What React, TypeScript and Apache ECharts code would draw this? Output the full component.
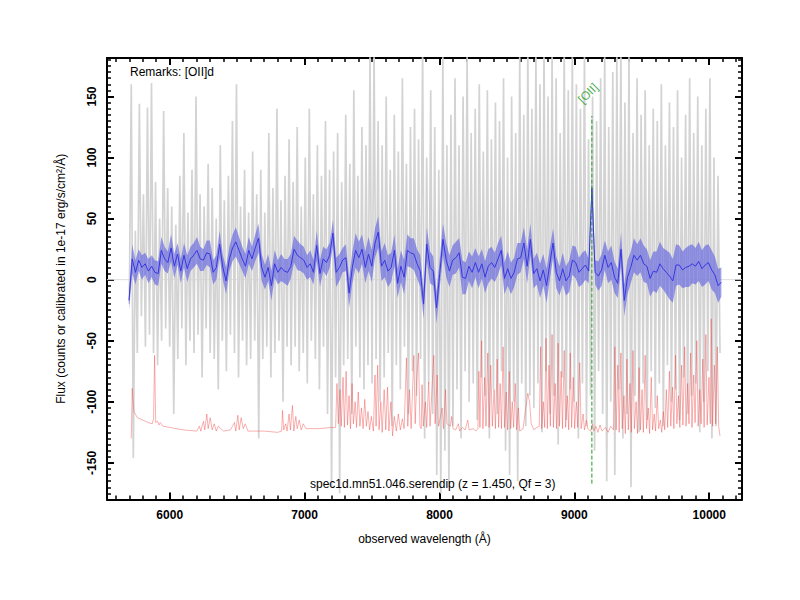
import React, { useEffect, useRef } from 'react';
import * as echarts from 'echarts';

// Axis ranges and tick labels
const X_MIN = 5535;
const X_MAX = 10243;
const Y_MIN = -180;
const Y_MAX = 181.5;
const X_TICKS = [6000, 7000, 8000, 9000, 10000];
const Y_TICKS = [-150, -100, -50, 0, 50, 100, 150];
const X_MINOR_STEP = 100;
const Y_MINOR_STEP = 5;

// Raw spectrum (grey), sampled every RAW_STEP Angstrom from RAW_START
const RAW_START = 5700;
const RAW_STEP = 15;
const RAW_FLUX = [
  -20, 160, -146, 40, -60, 144, -30, 70, -55, 141, -45, 161, -60, 80, -70, 50, -50, 138, -40, 75,
  -55, 60, -110, 45, -65, 85, -40, 120, -70, 55, -50, 90, -60, 150, -45, 70, -80, 60, -40, 95,
  -60, 75, -65, 50, -90, 110, -50, 65, -75, 85, -45, 130, -60, 160, -80, 60, -50, 90, -70, 55,
  -65, 105, -50, 70, -130, 90, -65, 55, -55, 120, -80, 75, -60, 140, -50, 65, -100, 85, -55, 115,
  -70, 80, -55, 125, -75, 60, -60, 100, -85, 140, -50, 70, -65, 110, -90, 85, -55, 130, -110, 90,
  -170, 105, -80, 120, -175, 80, -70, 135, -65, 95, -110, 155, -55, 85, -80, 125, -90, 110, -70, 185,
  -85, 190, -65, 130, -100, 110, -80, 150, -60, 90, -120, 135, -70, 105, -90, 165, -55, 95, -110, 125,
  -75, 140, -95, 115, -65, 190, -130, 100, -85, 155, -110, 125, -160, 90, -175, 185, -140, 110, -170, 135,
  -120, 165, -90, 110, -130, 150, -75, 185, -100, 120, -85, 140, -115, 160, -80, 105, -95, 155, -130, 115,
  -90, 145, -110, 130, -75, 165, -140, 100, -160, 150, -100, 120, -165, 185, -85, 135, -120, 190, -95, 140,
  -105, 185, -85, 160, -125, 190, -75, 150, -110, 185, -95, 165, -135, 120, -80, 190, -115, 155, -90, 185,
  -100, 160, -130, 140, -85, 185, -120, 115, -95, 150, -140, 130, -75, 165, -110, 190, -165, 125, -100, 170,
  -160, 185, -90, 190, -130, 145, -110, 185, -170, 120, -95, 165, -125, 135, -85, 155, -115, 110, -75, 140,
  -105, 130, -85, 160, -120, 110, -70, 145, -100, 125, -90, 155, -115, 100, -80, 135, -110, 165, -95, 120,
  -85, 150, -125, 110, -100, 140, -75, 165, -130, 100, -120, 85, -60,
];

// Smoothed spectrum (blue) and its 1-sigma half width, every SMOOTH_STEP Angstrom from SMOOTH_START
const SMOOTH_START = 5698;
const SMOOTH_STEP = 24;
const SMOOTH_FLUX = [
  -17, 17, 6, 16, 10, 13, 7, 11, 6, 5, 24, 17, 14, 26, 11, 21, 7, 20, 9, 17,
  20, 24, 17, 16, 22, 21, 6, 10, 29, 10, -1, 17, 26, 31, 24, 17, 11, 24, 17, 26,
  34, 10, 2, 10, -5, 13, 6, 10, 7, 6, 11, 25, 20, 18, 16, 10, 13, 6, 28, 5,
  17, 14, 20, 38, 6, 10, 16, 18,
  -11, 10, 24, 18, 25, 10, 21, 11, 30, 39, 11, 16, 7, 10, 24, -3, 11, 2, 24, 22,
  21, 13, 7, -20, 29, 10, 7, -23, 5, 33, 16, 7, 16, 18, 22, 2, 1, 11, 6, 14,
  6, 13, 2, 11, 14, 10, 17, 24, 1, 9, 1, 6, 17, 18, 30,
  11, 33, 5, 9, -1, 8, -5, 13, 30, 6, -1, 9, -1, 3, 16, 14, 6, 9, 12, 7,
  75, 6, 3, 8, 20, 10, 14, 2, -3, 25, -17, 2, 10, 20, 16, 20, 13, 11, 1, 7,
  6, 13, 9, 6, 3, -1, 12, 12, 8, 10, 11, 13, 11, 15, 9, 12, 14, 8, 4, -5,
  -2,
];
const SMOOTH_ERR = [
  8, 12, 10, 9, 10, 9, 10, 9, 10, 10, 11, 10, 9, 11, 10, 9, 10, 10, 11, 10,
  10, 11, 10, 9, 10, 11, 10, 10, 11, 10, 11, 10, 11, 12, 11, 10, 10, 11, 10, 11,
  12, 11, 10, 11, 12, 11, 10, 11, 10, 11, 10, 11, 12, 11, 11, 10, 11, 10, 12, 11,
  10, 11, 10, 11, 12, 11, 10, 11, 12, 13, 14, 13, 12, 13, 14, 13, 12, 13, 12, 14,
  13, 12, 13, 12, 13, 14, 13, 12, 13, 12, 13, 12, 14, 13, 12, 13, 12, 13, 14, 13,
  12, 13, 12, 14, 13, 12, 13, 12, 13, 12, 13, 14, 13, 12, 13, 12, 13, 14, 13, 12,
  13, 12, 13, 14, 13, 12, 13, 14, 13, 14, 13, 12, 13, 12, 13, 12, 13, 12, 13, 12,
  13, 12, 10, 8, 10, 12, 13, 12, 13, 14, 13, 12, 14, 13, 14, 13, 14, 13, 14, 15,
  14, 15, 16, 17, 18, 17, 18, 19, 18, 17, 16, 15, 16, 17, 16, 15, 16, 15, 16, 15,
  16, 15, 14, 12,
];

// Sky / noise spectrum (red), [wavelength, flux]
const SKY = [
  [5715, -130], [5722, -89], [5735, -108], [5760, -113], [5800, -115], [5840, -117], [5870, -118],
  [5880, -114], [5888, -62], [5896, -117], [5910, -116], [5920, -119], [5930, -117], [5950, -120],
  [6000, -121], [6100, -123], [6200, -124], [6220, -120], [6230, -124], [6250, -116], [6260, -123],
  [6275, -110], [6285, -122], [6300, -113], [6315, -123], [6330, -118], [6345, -124], [6360, -120],
  [6400, -124], [6450, -123], [6480, -117], [6490, -124], [6505, -111], [6515, -123], [6530, -113],
  [6545, -122], [6560, -118], [6580, -124], [6700, -124], [6800, -125], [6830, -124], [6836, -107],
  [6845, -123], [6860, -118], [6870, -124], [6885, -110], [6895, -123], [6910, -103], [6920, -124],
  [6935, -112], [6945, -122], [6960, -115], [6975, -123], [6990, -118], [7010, -122], [7100, -122],
  [7200, -121], [7230, -121], [7240, -85], [7250, -118], [7262, -90], [7272, -120], [7285, -80],
  [7295, -121], [7308, -75], [7318, -119], [7330, -95], [7340, -122], [7352, -85], [7362, -118],
  [7375, -100], [7385, -121], [7398, -92], [7410, -120], [7422, -105], [7434, -122], [7446, -98],
  [7458, -120], [7470, -108], [7482, -123], [7495, -112], [7510, -124], [7522, -78], [7530, -120],
  [7542, -70], [7552, -123], [7565, -100], [7575, -125], [7590, -90], [7602, -123], [7615, -88],
  [7625, -124], [7640, -100], [7652, -128], [7665, -112], [7680, -124], [7695, -110], [7710, -123],
  [7725, -114], [7738, -122], [7755, -64], [7765, -120], [7778, -90], [7790, -122], [7810, -62],
  [7820, -118], [7832, -80], [7845, -60], [7855, -120], [7865, -122], [7871, -86], [7880, -120],
  [7896, -100], [7905, -121], [7920, -84], [7930, -120], [7958, -62], [7968, -118], [7983, -78],
  [7993, -120], [8020, -105], [8030, -122], [8045, -90], [8055, -118], [8080, -120], [8090, -112],
  [8100, -122], [8120, -123], [8140, -118], [8150, -124], [8170, -121], [8190, -123], [8210, -115],
  [8220, -123], [8250, -122], [8270, -124], [8285, -122], [8292, -75], [8300, -121], [8312, -50],
  [8322, -122], [8335, -80], [8345, -120], [8358, -60], [8368, -121], [8380, -70], [8392, -120],
  [8405, -90], [8415, -122], [8428, -65], [8438, -121], [8450, -85], [8460, -122], [8472, -55],
  [8482, -121], [8495, -92], [8505, -123], [8518, -75], [8528, -122], [8540, -100], [8550, -121],
  [8562, -85], [8572, -123], [8585, -105], [8595, -124], [8620, -122], [8640, -105], [8655, -93],
  [8668, -100], [8680, -118], [8700, -123], [8720, -121], [8740, -120], [8750, -55], [8758, -122],
  [8770, -100], [8780, -121], [8790, -48], [8800, -122], [8812, -70], [8822, -120], [8835, -45],
  [8845, -121], [8858, -85], [8868, -122], [8880, -52], [8890, -120], [8902, -75], [8912, -122],
  [8925, -58], [8935, -121], [8948, -95], [8958, -123], [8970, -60], [8980, -121], [8992, -80],
  [9002, -122], [9015, -100], [9025, -121], [9040, -68], [9050, -122], [9065, -110], [9075, -123],
  [9090, -115], [9100, -122], [9120, -124], [9135, -118], [9145, -124], [9160, -120], [9175, -125],
  [9190, -119], [9205, -124], [9230, -121], [9250, -125], [9270, -120], [9290, -123], [9300, -55],
  [9310, -123], [9322, -70], [9332, -125], [9345, -60], [9355, -122], [9368, -95], [9378, -126],
  [9390, -65], [9400, -123], [9412, -85], [9422, -125], [9435, -58], [9445, -122], [9458, -100],
  [9468, -126], [9480, -72], [9490, -123], [9502, -90], [9512, -125], [9525, -62], [9535, -122],
  [9548, -105], [9558, -126], [9570, -80], [9580, -123], [9592, -110], [9602, -124], [9615, -95],
  [9625, -122], [9638, -115], [9648, -125], [9660, -108], [9670, -123], [9682, -90], [9692, -121],
  [9705, -75], [9715, -120], [9728, -88], [9738, -122], [9750, -62], [9760, -118], [9772, -95],
  [9782, -121], [9795, -70], [9805, -119], [9818, -55], [9828, -120], [9840, -85], [9850, -118],
  [9862, -60], [9872, -121], [9885, -78], [9895, -117], [9908, -50], [9918, -120], [9930, -90],
  [9940, -118], [9952, -65], [9962, -121], [9975, -45], [9985, -119], [9998, -80], [10008, -118],
  [10015, -32], [10025, -120], [10038, -70], [10048, -118], [10060, -55], [10070, -120], [10080, -128],
];

// Emission line marker
const LINE_WAVE = 9130;
const LINE_NAME = '[OII]';
const LINE_LOW = -167;
const LINE_HIGH = 134;

const REMARKS = 'Remarks: [OII]d';
const SPEC_LABEL = 'spec1d.mn51.046.serendip (z = 1.450, Qf = 3)';
const X_NAME = 'observed wavelength (\u00C5)';
const Y_NAME = 'Flux (counts or calibrated in 1e-17 erg/s/cm\u00B2/\u00C5)';

const FONT = 'Liberation Sans, Arial, Helvetica, sans-serif';

function range(min: number, max: number, step: number): number[] {
  const out: number[] = [];
  for (let v = Math.ceil(min / step) * step; v <= max; v += step) out.push(v);
  return out;
}

export default function App() {
  const ref = useRef<HTMLDivElement>(null);
  useEffect(() => {
    if (!ref.current) return;
    const chart = echarts.init(ref.current, undefined, { renderer: 'svg' });
    const xMinor = range(X_MIN, X_MAX, X_MINOR_STEP);
    const yMinor = range(Y_MIN, Y_MAX, Y_MINOR_STEP);
    const rawData = RAW_FLUX.map((v, i) => [RAW_START + i * RAW_STEP, v]);
    const smoothX = SMOOTH_FLUX.map((_, i) => SMOOTH_START + i * SMOOTH_STEP);
    const smoothData = SMOOTH_FLUX.map((v, i) => [smoothX[i], v]);

    const gridRect = { left: 107, right: 58, top: 58, bottom: 100.5 };
    const labelFmt = (v: number) => String(v);
    const majorX = (pos: string, labels: boolean, withName: boolean) => ({
      type: 'value', gridIndex: 0, position: pos, min: X_MIN, max: X_MAX,
      name: withName ? X_NAME : '', nameLocation: 'middle', nameGap: 33,
      nameTextStyle: { fontFamily: FONT, fontSize: 12, color: '#000' },
      axisLine: { show: true, onZero: false, lineStyle: { color: '#000', width: 2 } },
      axisTick: { show: true, inside: true, length: 7, customValues: X_TICKS, lineStyle: { color: '#000', width: 2 } },
      axisLabel: { show: labels, customValues: X_TICKS, formatter: labelFmt, fontFamily: FONT, fontWeight: 'bold', fontSize: 12, color: '#000', margin: 9 },
      splitLine: { show: false },
    });
    const majorY = (pos: string, labels: boolean, withName: boolean) => ({
      type: 'value', gridIndex: 0, position: pos, min: Y_MIN, max: Y_MAX,
      name: withName ? Y_NAME : '', nameLocation: 'middle', nameGap: 40,
      nameTextStyle: { fontFamily: FONT, fontSize: 12, color: '#000' },
      axisLine: { show: true, onZero: false, lineStyle: { color: '#000', width: 2 } },
      axisTick: { show: true, inside: true, length: 7, customValues: Y_TICKS, lineStyle: { color: '#000', width: 2 } },
      axisLabel: { show: labels, customValues: Y_TICKS, formatter: labelFmt, rotate: 90, fontFamily: FONT, fontWeight: 'bold', fontSize: 12, color: '#000', margin: 9 },
      splitLine: { show: false },
    });
    const minorX = (pos: string) => ({
      type: 'value', gridIndex: 1, position: pos, min: X_MIN, max: X_MAX,
      axisLine: { show: false, onZero: false },
      axisTick: { show: true, inside: true, length: 4, customValues: xMinor, lineStyle: { color: '#000', width: 1.5 } },
      axisLabel: { show: false }, splitLine: { show: false },
    });
    const minorY = (pos: string) => ({
      type: 'value', gridIndex: 1, position: pos, min: Y_MIN, max: Y_MAX,
      axisLine: { show: false, onZero: false },
      axisTick: { show: true, inside: true, length: 4, customValues: yMinor, lineStyle: { color: '#000', width: 1.5 } },
      axisLabel: { show: false }, splitLine: { show: false },
    });

    const bandColor = 'rgba(80,80,225,0.55)';
    const option: any = {
      animation: false,
      backgroundColor: '#fff',
      grid: [gridRect, gridRect],
      xAxis: [majorX('bottom', true, true), majorX('top', false, false), minorX('bottom'), minorX('top')],
      yAxis: [majorY('left', true, true), majorY('right', false, false), minorY('left'), minorY('right')],
      graphic: [
        { type: 'text', left: 130, top: 66, z: 100, style: { text: REMARKS, font: `12px ${FONT}`, fill: '#000' } },
        { type: 'text', left: 310, top: 478, z: 100, style: { text: SPEC_LABEL, font: `12px ${FONT}`, fill: '#000' } },
      ],
      series: [
        {
          type: 'line', name: 'zero', xAxisIndex: 0, yAxisIndex: 0, data: [[X_MIN, 0], [X_MAX, 0]], symbol: 'none',
          lineStyle: { color: '#dddddd', width: 1 }, z: 0, silent: true,
        },
        {
          type: 'line', name: 'raw', xAxisIndex: 0, yAxisIndex: 0, data: rawData, symbol: 'none',
          lineStyle: { color: '#d3d3d3', width: 1.7 }, z: 1, silent: true,
        },
        {
          type: 'line', name: 'sky', xAxisIndex: 0, yAxisIndex: 0, data: SKY, symbol: 'none',
          lineStyle: { color: 'rgba(240,60,60,0.5)', width: 0.8 }, z: 2, silent: true,
        },
        {
          type: 'custom', name: 'band', xAxisIndex: 0, yAxisIndex: 0, data: [[SMOOTH_START, 0]], z: 3, silent: true,
          clip: true,
          renderItem: (_params: any, api: any) => {
            const upper = SMOOTH_FLUX.map((v, i) => api.coord([smoothX[i], v + SMOOTH_ERR[i]]));
            const lower = SMOOTH_FLUX.map((v, i) => api.coord([smoothX[i], v - SMOOTH_ERR[i]])).reverse();
            return { type: 'polygon', shape: { points: upper.concat(lower) }, style: { fill: bandColor } };
          },
        },
        {
          type: 'line', name: 'smooth', xAxisIndex: 0, yAxisIndex: 0, data: smoothData, symbol: 'none',
          lineStyle: { color: 'rgb(55,55,225)', width: 1 }, z: 4, silent: true,
        },
        {
          type: 'line', name: 'lineMarker', xAxisIndex: 0, yAxisIndex: 0,
          data: [[LINE_WAVE, LINE_LOW], [LINE_WAVE, LINE_HIGH]], symbol: 'none',
          lineStyle: { color: '#1f9a1f', width: 1, type: [4, 2] }, z: 5, silent: true,
        },
        {
          type: 'scatter', name: 'lineLabel', xAxisIndex: 0, yAxisIndex: 0,
          data: [[LINE_WAVE, LINE_HIGH]], symbolSize: 1, itemStyle: { color: 'transparent' }, z: 6, silent: true,
          label: {
            show: true, formatter: LINE_NAME, position: [0, 0], rotate: 45, align: 'left', verticalAlign: 'middle',
            offset: [2, -18], color: '#1f9a1f', fontFamily: FONT, fontSize: 12,
          },
        },
      ],
    };
    chart.setOption(option);
    return () => chart.dispose();
  }, []);
  return <div ref={ref} style={{ position: 'fixed', left: 0, top: 0, width: 800, height: 600, background: '#fff' }} />;
}
